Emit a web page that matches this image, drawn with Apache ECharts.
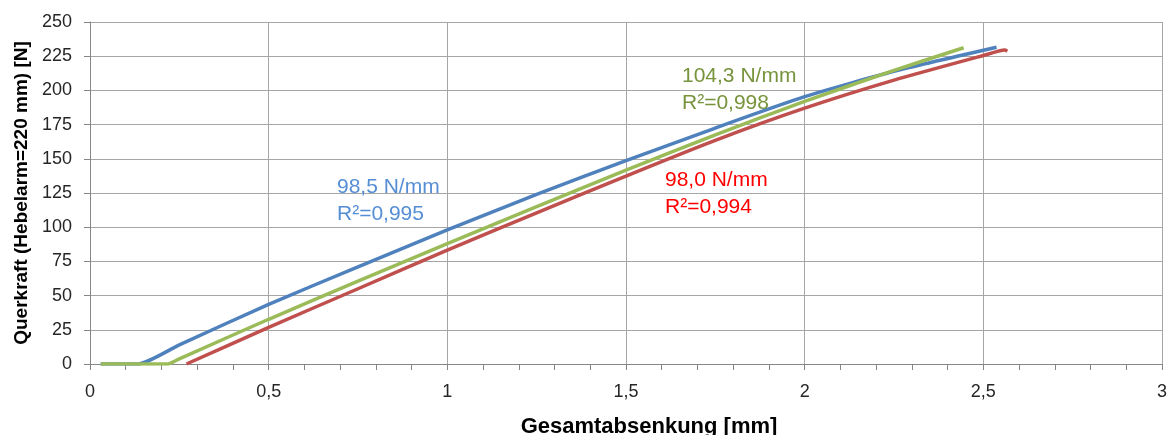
<!DOCTYPE html>
<html>
<head>
<meta charset="utf-8">
<script src="https://cdn.jsdelivr.net/npm/echarts@6/dist/echarts.min.js"></script>
<style>html,body{margin:0;padding:0;background:#fff}#c{width:1172px;height:435px}</style>
</head>
<body>
<div id="c"></div>
<script>
// Gesamtabsenkung [mm] / Querkraft [N]
const blueX  = [0.03, 0.134, 0.25, 0.5, 0.75, 1.0, 1.25, 1.5, 1.75, 2.0, 2.25, 2.537];
const blueY  = [0, 0, 14, 43.6, 71, 98, 124, 148.6, 172.5, 195.4, 214, 231.6];
const greenX = [0.03, 0.218, 0.25, 0.5, 0.75, 1.0, 1.25, 1.5, 1.75, 2.0, 2.25, 2.445];
const greenY = [0, 0, 3.8, 32.7, 60.5, 88, 115, 141.8, 167.5, 192, 214.6, 231.2];
const redX   = [0.27, 0.5, 0.75, 1.0, 1.25, 1.5, 1.75, 2.0, 2.25, 2.5, 2.56, 2.567];
const redY   = [0, 26.8, 55, 83.3, 110.5, 137.4, 163.5, 187, 207.5, 225.5, 229.5, 228.6];
const xTicks = ['0','0,5','1','1,5','2','2,5','3'];
const yTicks = [0,25,50,75,100,125,150,175,200,225,250];
const notes = [
  {lines:['98,5 N/mm','R²=0,995'], color:'#558ED5', left:337, top:174},
  {lines:['104,3 N/mm','R²=0,998'], color:'#77933C', left:682, top:63},
  {lines:['98,0 N/mm','R²=0,994'], color:'#FF0000', left:665, top:167}
];

const zip = (xs, ys) => xs.map((x, i) => [x, ys[i]]);
const FONT = '"Liberation Sans", Arial, sans-serif';
const chart = echarts.init(document.getElementById('c'));
const mkSeries = (name, xs, ys, color, z) => ({
  name, type:'line', data: zip(xs, ys), showSymbol:false, smooth:0.2, z,
  lineStyle:{color, width:3.5}, itemStyle:{color}
});
chart.setOption({
  animation:false,
  grid:{left:90, right:10, top:22, bottom:71, containLabel:false, outerBoundsMode:'none'},
  xAxis:{
    type:'value', min:0, max:3, interval:0.5,
    name:'Gesamtabsenkung [mm]', nameLocation:'middle', nameGap:52,
    nameTextStyle:{fontFamily:FONT, fontWeight:'bold', fontSize:22, color:'#000', padding:[0,0,0,46]},
    axisLine:{show:true, lineStyle:{color:'#868686', width:1}},
    axisTick:{show:true, length:6, lineStyle:{color:'#868686'}},
    minorTick:{show:true, splitNumber:5, length:6, lineStyle:{color:'#868686'}},
    splitLine:{show:true, lineStyle:{color:'#A6A6A6', width:1}},
    axisLabel:{fontFamily:FONT, fontSize:18, color:'#262626', margin:19,
      formatter: v => xTicks[Math.round(v*2)] }
  },
  yAxis:{
    type:'value', min:0, max:250, interval:25,
    name:'Querkraft (Hebelarm=220 mm) [N]', nameLocation:'middle', nameGap:58, nameRotate:90,
    nameTextStyle:{fontFamily:FONT, fontWeight:'bold', fontSize:19, color:'#000'},
    axisLine:{show:true, lineStyle:{color:'#868686', width:1}},
    axisTick:{show:true, length:6, lineStyle:{color:'#868686'}},
    splitLine:{show:true, lineStyle:{color:'#A6A6A6', width:1}},
    axisLabel:{fontFamily:FONT, fontSize:18, color:'#262626', margin:18,
      formatter: v => String(yTicks[Math.round(v/25)]) }
  },
  series:[
    mkSeries('blue', blueX, blueY, '#4F81BD', 3),
    mkSeries('red', redX, redY, '#C0504D', 2),
    mkSeries('green', greenX, greenY, '#9BBB59', 4)
  ],
  graphic: notes.map(n => ({
    type:'text', left:n.left, top:n.top, z:10,
    style:{text:n.lines.join('\n'), fill:n.color, font:'21px ' + FONT, lineHeight:27}
  }))
});
</script>
</body>
</html>
